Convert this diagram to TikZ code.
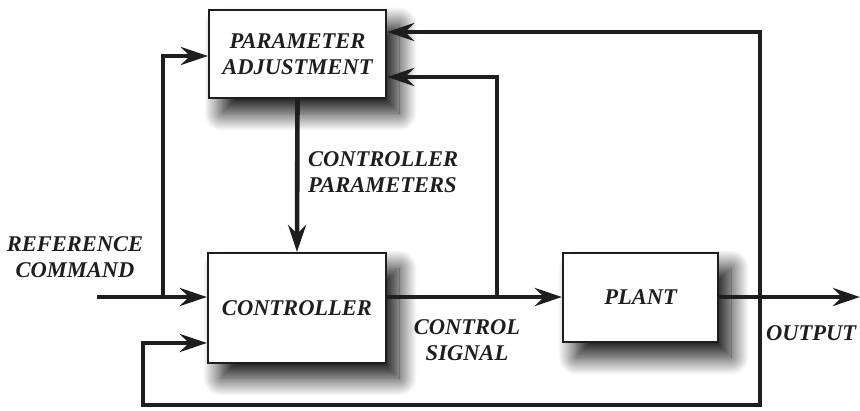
\documentclass[tikz,border=0pt]{standalone}
\usepackage{fontspec}
\setmainfont{Liberation Serif}
\usetikzlibrary{arrows.meta,shadows.blur,calc}
\definecolor{ink}{HTML}{1E1E1E}
\tikzset{
  lbl/.style={font=\fontsize{22.5}{26}\selectfont\bfseries\itshape, text=ink, align=center, inner sep=0pt},
  blockbox/.style={draw=ink, line width=2.2pt, fill=white, minimum width=#1,
    blur shadow={shadow xshift=13pt, shadow yshift=-15pt, shadow blur radius=18pt,
      shadow blur steps=28, shadow opacity=95}},
  wire/.style={draw=ink, line width=4.6pt, line join=miter},
  arr/.style={wire, -{Stealth[length=27pt, width=18pt, inset=9pt]}},
}
\begin{document}
\begin{tikzpicture}[x=1pt,y=-1pt]
\useasboundingbox (0,0) rectangle (860,410);

% blocks
\node[blockbox=177pt, minimum height=88pt, lbl] (pa) at (297.5,54) {PARAMETER\\ADJUSTMENT};
\node[blockbox=178pt, minimum height=110pt, lbl] (ctrl) at (297,308) {CONTROLLER};
\node[blockbox=155pt, minimum height=89pt, lbl] (plant) at (640.5,297.5) {PLANT};

% signal labels
\node[lbl] (refl) at (75,257) {REFERENCE\\COMMAND};
\node[lbl, align=left, anchor=west] (cpl) at (308,172) {CONTROLLER\\PARAMETERS};
\node[lbl] (csl) at (467,340) {CONTROL\\SIGNAL};
\node[lbl, anchor=west] (outl) at (766,333) {OUTPUT};

% junctions and free ends
\coordinate (in) at (97,297);
\coordinate (j1) at (163,297);
\coordinate (j2) at (497,297);
\coordinate (j3) at (760,297);
\coordinate (out) at (860,297);
\coordinate (fbl) at (143,405);

% connectors
\draw[arr] (in) -- (ctrl.west |- in);
\draw[arr] (j1) |- ([yshift=-2pt]pa.west);
\draw[arr] (pa.south) -- (ctrl.north);
\draw[arr] (ctrl.east |- j2) -- (plant.west |- j2);
\draw[arr] (j2) |- ([yshift=-23pt]pa.east);
\draw[arr] (plant.east |- j3) -- (out);
\draw[arr] (j3) |- ([yshift=22pt]pa.east);
\draw[arr] (j3) |- (fbl) |- ([yshift=-35pt]ctrl.west);
\end{tikzpicture}
\end{document}
